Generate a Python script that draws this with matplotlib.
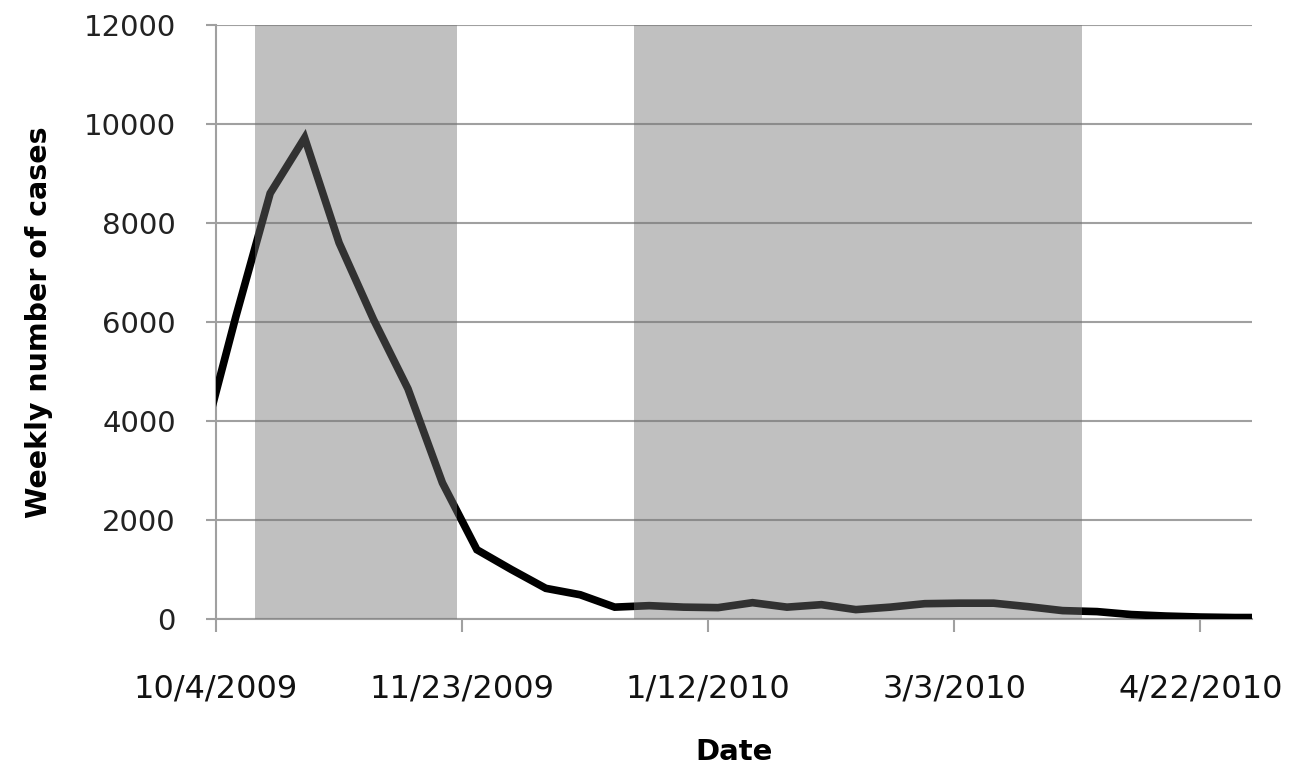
import numpy as np
import pandas as pd
import matplotlib
matplotlib.use("Agg")
import matplotlib.pyplot as plt
import matplotlib.dates as mdates

# weekly case counts, one point per week starting 10/1/2009
first_week = "2009-10-01"
cases = [3450, 6100, 8600, 9720, 7600, 6050, 4650, 2750, 1400, 1000,
         620, 490, 240, 270, 240, 230, 330, 240, 290, 190,
         240, 310, 320, 320, 250, 170, 150, 90, 60, 40, 30, 30]

# shaded periods
periods = [("2009-10-12", "2009-11-22"), ("2009-12-28", "2010-03-29")]

tick_dates = ["2009-10-04", "2009-11-23", "2010-01-12", "2010-03-03", "2010-04-22"]
x_range = ("2009-10-04", "2010-05-02 12:00")
y_ticks = [0, 2000, 4000, 6000, 8000, 10000, 12000]

weeks = pd.date_range(first_week, periods=len(cases), freq="7D")

fig = plt.figure(figsize=(13.03, 7.81), dpi=100)
ax = fig.add_axes([0.1658, 0.2074, 0.7951, 0.7606])

ax.plot(weeks, cases, color="black", lw=5.5, solid_joinstyle="miter",
        solid_capstyle="butt", zorder=3)

for start, end in periods:
    ax.axvspan(pd.Timestamp(start), pd.Timestamp(end), color="#727272",
               alpha=0.447, lw=0, zorder=4)

ax.set_xlim(pd.Timestamp(x_range[0]), pd.Timestamp(x_range[1]))
ax.set_ylim(0, 12000)
ax.set_yticks(y_ticks)
ax.set_yticklabels([str(v) for v in y_ticks], fontsize=21, color="#222222")

ticks = [pd.Timestamp(d) for d in tick_dates]
ax.set_xticks(ticks)
ax.set_xticklabels([f"{t.month}/{t.day}/{t.year}" for t in ticks],
                   fontsize=23, color="#111111")

ax.grid(axis="y", color="#a0a0a0", lw=1.5, zorder=1)
ax.set_axisbelow(True)
for s in ["top", "right"]:
    ax.spines[s].set_visible(False)
for s in ["left", "bottom"]:
    ax.spines[s].set_color("#a0a0a0")
    ax.spines[s].set_linewidth(1.5)
ax.tick_params(axis="y", length=7, width=1.5, color="#a0a0a0", pad=22)
ax.tick_params(axis="x", length=9, width=1.5, color="#a0a0a0", pad=30)

ax.set_ylabel("Weekly number of cases", fontsize=20.5, fontweight="bold",
              labelpad=22)
ax.set_xlabel("Date", fontsize=21, fontweight="bold", labelpad=24)

fig.savefig("out.png", dpi=100)
